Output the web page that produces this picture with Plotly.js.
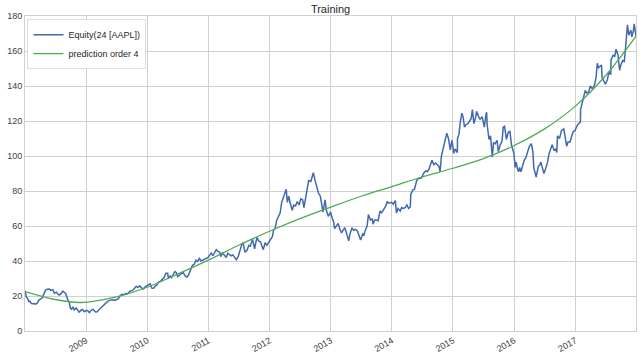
<!DOCTYPE html>
<html>
<head>
<meta charset="utf-8">
<script src="https://cdn.plot.ly/plotly-3.0.1.min.js"></script>
<style>html,body{margin:0;padding:0;background:#fff;}#chart{width:640px;height:358px;}</style>
</head>
<body>
<div id="chart"></div>
<script>
// ---- Equity(24 [AAPL]) price ----
const d2008 = ['2008-01-02','2008-01-10','2008-01-18','2008-01-25','2008-02-01','2008-02-08','2008-02-15','2008-02-25','2008-03-03','2008-03-14','2008-03-25','2008-04-04','2008-04-14','2008-04-25','2008-05-05','2008-05-15','2008-05-27','2008-06-05','2008-06-16','2008-06-26','2008-07-08','2008-07-16','2008-07-25','2008-08-05','2008-08-15','2008-08-25','2008-09-02','2008-09-15','2008-09-22','2008-09-29','2008-10-06','2008-10-14','2008-10-22','2008-11-03','2008-11-13','2008-11-20','2008-12-01','2008-12-10','2008-12-22'];
const v2008 = [23.0,19.5,18.5,16.8,17.0,15.8,15.6,15.7,15.3,15.8,17.7,18.5,18.8,21.5,23.5,23.8,24.0,23.2,23.6,21.6,22.2,21.0,20.5,21.5,22.8,22.0,21.2,17.5,16.5,13.0,12.5,13.8,12.0,13.2,12.0,10.8,11.8,12.3,11.0];
const d2009 = ['2009-01-02','2009-01-12','2009-01-20','2009-02-02','2009-02-12','2009-02-24','2009-03-06','2009-03-17','2009-03-27','2009-04-07','2009-04-17','2009-04-28','2009-05-08','2009-05-20','2009-06-01','2009-06-10','2009-06-22','2009-07-02','2009-07-13','2009-07-23','2009-08-03','2009-08-14','2009-08-25','2009-09-04','2009-09-15','2009-09-25','2009-10-06','2009-10-16','2009-10-27','2009-11-06','2009-11-17','2009-11-30','2009-12-10','2009-12-21','2009-12-31'];
const v2009 = [11.8,11.5,10.5,12.0,12.4,11.0,10.9,12.0,13.0,14.2,15.0,15.8,16.8,17.5,17.8,17.8,17.5,17.8,18.5,20.2,21.0,20.7,21.4,21.2,22.4,23.0,23.2,24.5,25.6,24.8,25.8,24.4,24.1,25.4,26.0];
const d2010 = ['2010-01-08','2010-01-19','2010-01-28','2010-02-08','2010-02-18','2010-03-01','2010-03-10','2010-03-22','2010-04-01','2010-04-12','2010-04-22','2010-05-03','2010-05-07','2010-05-17','2010-05-26','2010-06-04','2010-06-15','2010-06-23','2010-07-02','2010-07-14','2010-07-26','2010-08-05','2010-08-16','2010-08-26','2010-09-07','2010-09-17','2010-09-28','2010-10-08','2010-10-19','2010-10-29','2010-11-09','2010-11-18','2010-11-30','2010-12-10','2010-12-21','2010-12-31'];
const v2010 = [26.6,27.0,24.5,24.4,25.7,26.4,28.0,28.5,29.5,30.5,33.0,33.0,30.0,31.5,30.5,32.0,34.0,33.5,31.0,32.0,33.0,33.2,31.5,30.8,32.5,35.0,37.5,38.0,40.5,39.8,41.5,40.0,40.5,41.0,41.5,42.0];
const d2011 = ['2011-01-10','2011-01-19','2011-01-28','2011-02-08','2011-02-17','2011-02-28','2011-03-10','2011-03-16','2011-03-25','2011-04-05','2011-04-18','2011-04-27','2011-05-06','2011-05-17','2011-05-27','2011-06-08','2011-06-17','2011-06-28','2011-07-08','2011-07-20','2011-07-27','2011-08-08','2011-08-19','2011-08-31','2011-09-09','2011-09-21','2011-09-30','2011-10-04','2011-10-18','2011-10-28','2011-11-08','2011-11-17','2011-11-25','2011-12-06','2011-12-16','2011-12-30'];
const v2011 = [43.5,44.5,43.0,45.5,46.5,45.5,45.0,42.5,44.5,43.5,42.0,44.5,44.0,43.0,43.5,42.0,40.8,42.5,46.5,49.5,50.5,45.0,46.0,49.0,48.5,52.5,49.0,47.0,53.5,51.5,51.0,49.0,46.5,50.5,49.0,51.0];
const d2012 = ['2012-01-09','2012-01-19','2012-01-25','2012-02-03','2012-02-14','2012-02-24','2012-03-05','2012-03-14','2012-03-23','2012-04-02','2012-04-10','2012-04-17','2012-04-25','2012-05-04','2012-05-16','2012-05-25','2012-06-05','2012-06-15','2012-06-26','2012-07-06','2012-07-17','2012-07-25','2012-08-03','2012-08-13','2012-08-22','2012-09-04','2012-09-14','2012-09-19','2012-09-28','2012-10-10','2012-10-19','2012-10-31','2012-11-09','2012-11-16','2012-11-28','2012-12-06','2012-12-17','2012-12-31'];
const v2012 = [53.0,54.0,57.5,58.5,63.5,66.0,67.5,73.5,76.0,78.5,81.0,73.5,77.0,73.0,69.0,72.0,71.5,74.0,72.0,75.5,75.0,70.5,76.0,81.0,86.0,85.5,89.5,90.5,86.5,82.5,79.0,77.0,71.0,68.0,75.0,69.0,65.5,68.0];
const d2013 = ['2013-01-08','2013-01-18','2013-01-24','2013-02-05','2013-02-14','2013-02-25','2013-03-06','2013-03-15','2013-03-26','2013-04-05','2013-04-18','2013-04-26','2013-05-08','2013-05-17','2013-05-29','2013-06-10','2013-06-21','2013-06-28','2013-07-11','2013-07-19','2013-07-26','2013-08-06','2013-08-14','2013-08-26','2013-09-06','2013-09-11','2013-09-20','2013-10-01','2013-10-11','2013-10-22','2013-11-01','2013-11-12','2013-11-26','2013-12-04','2013-12-12','2013-12-31'];
const v2013 = [65.0,62.5,58.5,60.0,61.5,58.0,56.0,57.5,59.0,56.0,51.5,55.5,59.0,57.5,58.0,57.0,53.5,52.0,55.5,55.0,57.5,60.0,66.5,63.5,64.0,61.0,63.5,63.5,63.0,68.5,67.5,69.5,71.5,74.0,73.0,73.5];
const d2014 = ['2014-01-09','2014-01-22','2014-01-28','2014-02-07','2014-02-20','2014-02-28','2014-03-10','2014-03-21','2014-04-01','2014-04-11','2014-04-21','2014-04-24','2014-05-06','2014-05-16','2014-05-28','2014-06-06','2014-06-17','2014-06-27','2014-07-09','2014-07-22','2014-07-31','2014-08-11','2014-08-21','2014-08-29','2014-09-09','2014-09-19','2014-09-30','2014-10-10','2014-10-16','2014-10-24','2014-11-04','2014-11-14','2014-11-25','2014-12-05','2014-12-16','2014-12-26','2014-12-31'];
const v2014 = [72.5,74.5,67.5,70.0,68.5,70.5,70.0,70.5,72.0,70.0,71.0,78.0,80.5,81.0,85.5,87.0,87.5,87.5,90.0,91.5,91.0,92.5,95.5,97.5,95.0,96.0,95.0,94.0,91.0,100.0,104.5,109.0,113.0,110.0,103.5,109.0,106.0];
const d2015 = ['2015-01-06','2015-01-14','2015-01-27','2015-01-28','2015-02-06','2015-02-13','2015-02-23','2015-03-02','2015-03-11','2015-03-20','2015-03-31','2015-04-10','2015-04-20','2015-04-27','2015-05-06','2015-05-15','2015-05-22','2015-06-03','2015-06-12','2015-06-24','2015-07-07','2015-07-16','2015-07-21','2015-07-24','2015-08-04','2015-08-13','2015-08-24','2015-08-31','2015-09-10','2015-09-21','2015-09-29','2015-10-09','2015-10-21','2015-10-28','2015-11-05','2015-11-16','2015-11-27','2015-12-07','2015-12-17','2015-12-31'];
const v2015 = [101.5,104.0,102.0,110.0,112.5,119.0,124.5,122.5,116.5,118.0,118.5,120.0,121.5,126.5,118.5,121.5,125.5,122.5,121.0,122.5,116.5,123.0,125.0,118.0,109.5,111.5,99.5,107.5,107.0,109.0,102.5,106.0,108.5,116.5,117.0,109.5,113.5,114.0,106.0,101.5];
const d2016 = ['2016-01-07','2016-01-14','2016-01-20','2016-01-28','2016-02-03','2016-02-11','2016-02-22','2016-03-01','2016-03-11','2016-03-22','2016-04-01','2016-04-13','2016-04-22','2016-04-28','2016-05-06','2016-05-12','2016-05-24','2016-06-03','2016-06-09','2016-06-16','2016-06-27','2016-07-08','2016-07-19','2016-07-27','2016-08-05','2016-08-15','2016-08-26','2016-09-07','2016-09-12','2016-09-16','2016-09-28','2016-10-10','2016-10-24','2016-10-31','2016-11-10','2016-11-18','2016-11-30','2016-12-09','2016-12-19','2016-12-30'];
const v2016 = [93.5,96.5,93.0,91.0,93.5,91.0,94.5,97.5,99.0,103.0,105.5,107.0,102.5,93.0,90.0,88.0,94.0,95.0,96.5,94.0,90.0,93.0,96.5,101.0,104.0,106.5,103.5,104.0,102.0,111.5,110.0,114.5,115.5,110.5,105.5,108.0,108.0,111.0,114.0,114.5];
const d2017 = ['2017-01-09','2017-01-20','2017-01-31','2017-02-01','2017-02-10','2017-02-21','2017-03-01','2017-03-10','2017-03-21','2017-03-31','2017-04-11','2017-04-20','2017-04-28','2017-05-05','2017-05-12','2017-05-19','2017-05-31','2017-06-06','2017-06-09','2017-06-20','2017-06-29','2017-07-11','2017-07-20','2017-07-31','2017-08-02','2017-08-14','2017-08-24','2017-09-01','2017-09-12','2017-09-22','2017-09-29','2017-10-11','2017-10-20','2017-10-27','2017-11-03','2017-11-08','2017-11-16','2017-11-28','2017-12-04','2017-12-13','2017-12-18','2017-12-29'];
const v2017 = [117.0,118.5,119.5,126.5,130.0,134.5,137.5,136.0,136.5,140.0,138.5,139.5,141.5,145.5,153.0,150.5,151.5,152.0,145.0,143.0,141.0,143.5,148.0,146.5,155.0,157.5,157.0,161.0,158.0,149.0,152.0,154.5,154.0,161.0,170.5,175.0,169.0,172.0,168.0,171.5,175.5,168.5];

// ---- prediction order 4 (green curve) ----
const fitDates = ['2008-01-02','2008-07-01','2008-12-01','2009-07-01','2010-01-01','2010-07-01','2011-01-01','2011-07-01','2012-01-01','2012-07-01','2013-01-01','2013-07-01','2014-01-01','2014-07-01','2015-01-01','2015-07-01','2016-01-01','2016-07-01','2017-01-01','2017-07-01','2017-12-29'];
const fitValues = [22.5,18.0,16.3,19.5,25.0,32.5,40.5,49.0,57.0,64.2,70.8,77.0,82.5,88.0,93.0,98.5,106.0,115.5,128.5,146.0,168.5];

// ---- axes ----
const yearTicks = ['2009-01-01','2010-01-01','2011-01-01','2012-01-01','2013-01-01','2014-01-01','2015-01-01','2016-01-01','2017-01-01'];
const yearLabels = ['2009','2010','2011','2012','2013','2014','2015','2016','2017'];
const seriesNames = ['Equity(24 [AAPL])','prediction order 4'];
const chartTitle = 'Training';

const priceDates = [].concat(d2008,d2009,d2010,d2011,d2012,d2013,d2014,d2015,d2016,d2017);
const priceValues = [].concat(v2008,v2009,v2010,v2011,v2012,v2013,v2014,v2015,v2016,v2017);

const traces = [
  {x: priceDates, y: priceValues, type:'scatter', mode:'lines', name: seriesNames[0],
   line:{color:'#4169ae', width:1.5}},
  {x: fitDates, y: fitValues, type:'scatter', mode:'lines', name: seriesNames[1],
   line:{color:'#4eaa55', width:1.3, shape:'spline', smoothing:1}}
];

const axisCommon = {
  showgrid:true, gridcolor:'#d0d0d0', gridwidth:1,
  showline:true, linecolor:'#d0d0d0', linewidth:1, mirror:true,
  ticks:'', zeroline:false, automargin:false,
  tickfont:{size:9, color:'#404040'}
};

const layout = {
  width:640, height:358,
  margin:{l:25, r:4, t:16, b:27, pad:0},
  paper_bgcolor:'#ffffff', plot_bgcolor:'#ffffff',
  font:{family:'Liberation Sans, Arial, sans-serif', size:9, color:'#262626'},
  title:{text: chartTitle, x:0.5165, xanchor:'center', y:0.975, yanchor:'middle', yref:'container',
         font:{size:11, color:'#262626'}},
  xaxis: Object.assign({}, axisCommon, {
    type:'date', range:[priceDates[0], priceDates[priceDates.length-1]],
    tickmode:'array', tickvals: yearTicks, ticktext: yearLabels, tickangle:-30
  }),
  yaxis: Object.assign({}, axisCommon, {
    range:[0,180], tickmode:'linear', tick0:0, dtick:20
  }),
  showlegend:true,
  legend:{x:0.004, y:0.99, xanchor:'left', yanchor:'top', bgcolor:'#ffffff',
          bordercolor:'#dddddd', borderwidth:1, font:{size:9, color:'#262626'},
          tracegroupgap:0}
};

Plotly.newPlot('chart', traces, layout, {displayModeBar:false, staticPlot:true});
</script>
</body>
</html>
